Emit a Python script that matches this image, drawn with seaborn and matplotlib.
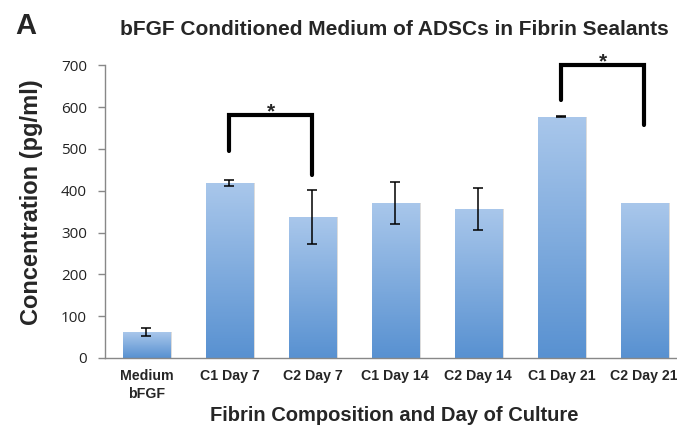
import numpy as np
import pandas as pd
import seaborn as sns
import matplotlib.pyplot as plt
from matplotlib.colors import LinearSegmentedColormap

categories = ["Medium\nbFGF", "C1 Day 7", "C2 Day 7", "C1 Day 14", "C2 Day 14", "C1 Day 21", "C2 Day 21"]
values = [62, 418, 337, 371, 357, 577, 370]
errors = [10, 7, 64, 50, 50, 1, 0]
# significance brackets: (left idx, right idx, left foot, right foot, top)
brackets = [(1, 2, 496, 437, 580), (5, 6, 616, 557, 700)]
yticks = [0, 100, 200, 300, 400, 500, 600, 700]

sns.set_theme(style="white")
plt.rcParams["font.family"] = ["Liberation Sans", "DejaVu Sans"]

df = pd.DataFrame({"cat": categories, "val": values})

fig = plt.figure(figsize=(6.77, 4.28), dpi=100)
ax = fig.add_axes([0.155, 0.1636, 0.858, 0.684])

sns.barplot(data=df, x="cat", y="val", color="#7aa7dc", width=0.57, ax=ax, saturation=1)

# vertical gradient fill for each bar
cmap = LinearSegmentedColormap.from_list("bluegrad", ["#a9c7eb", "#5891d1"])
grad = np.linspace(0, 1, 256).reshape(-1, 1)
for p in list(ax.patches):
    x0, y0 = p.get_x(), p.get_y()
    w, h = p.get_width(), p.get_height()
    # soft shadow
    sh = plt.Rectangle((x0 + 0.02, y0), w, h, color="#d4d4d4", zorder=1.5, lw=0)
    ax.add_patch(sh)
    im = ax.imshow(grad, extent=[x0, x0 + w, y0, y0 + h], aspect="auto", cmap=cmap,
                   origin="upper", zorder=2)
    im.set_clip_path(p)
    p.set_zorder(2)

xs = np.arange(len(categories))
for x, v, e in zip(xs, values, errors):
    if e > 0:
        ax.errorbar(x, v, yerr=e, fmt="none", ecolor="black", elinewidth=1.1,
                    capsize=3.5, capthick=1.1, zorder=4)

for i, j, yl, yr, top in brackets:
    ax.plot([i, i, j, j], [yl, top, top, yr], color="black", lw=3, clip_on=False,
            solid_joinstyle="miter", zorder=5)
    ax.text((i + j) / 2, top - 4, "*", ha="center", va="baseline", fontsize=15,
            fontweight="bold", clip_on=False)

ax.set_ylim(0, 700)
ax.set_xlim(-0.5, len(categories) - 0.5)
ax.set_yticks(yticks)
ax.set_yticklabels([str(t) for t in yticks], fontsize=11, family=["Open Sans", "DejaVu Sans"],
                   color="#222222")
ax.set_xticks(xs)
ax.set_xticklabels(categories, fontsize=10.2, fontweight="bold", linespacing=1.35)
ax.set_xticks(np.arange(-0.5, len(categories) + 0.5, 1), minor=True)
ax.tick_params(axis="x", which="major", length=0, pad=8)
ax.tick_params(axis="x", which="minor", length=5, color="#888888", width=1, direction="out")
ax.tick_params(axis="y", length=5, color="#888888", width=1, direction="out", pad=8, left=True)

for s in ["top", "right"]:
    ax.spines[s].set_visible(False)
for s in ["left", "bottom"]:
    ax.spines[s].set_color("#888888")
    ax.spines[s].set_linewidth(1)

ax.set_xlabel("")
ax.set_ylabel("")
fig.text(0.583, 0.03, "Fibrin Composition and Day of Culture", ha="center", va="center",
         fontsize=14.5, fontweight="bold")
fig.text(0.047, 0.528, "Concentration (pg/ml)", ha="center", va="center", rotation=90,
         fontsize=17, fontweight="bold")

fig.text(0.583, 0.93, "bFGF Conditioned Medium of ADSCs in Fibrin Sealants", ha="center",
         va="center", fontsize=15, fontweight="bold")
fig.text(0.022, 0.94, "A", ha="left", va="center", fontsize=21, fontweight="bold")

fig.savefig("out.png", dpi=100)
